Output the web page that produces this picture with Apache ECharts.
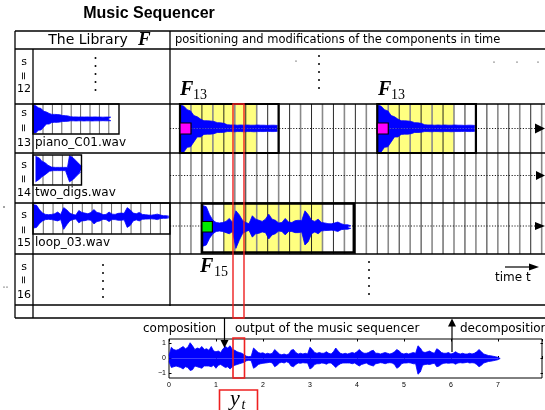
<!DOCTYPE html>
<html><head><meta charset="utf-8">
<script src="https://cdn.jsdelivr.net/npm/echarts@6/dist/echarts.min.js"></script>
<style>html,body{margin:0;padding:0;background:#fff}#c{width:545px;height:410px}</style>
</head><body><div id="c"></div>
<script>
// ---------------- data ----------------
const TIME_TICKS = [0, 1, 2, 3, 4, 5, 6, 7];
const AMP_TICKS = [-1, 0, 1];
const OUT_DT = 0.05; // seconds between envelope samples of the sequencer output
const OUT_UPPER = [
 0.2,0.75,0.6,0.55,0.6,0.7,0.8,0.65,0.75,1.05,
 0.85,0.6,0.7,0.65,0.8,0.6,0.65,0.55,0.8,0.5,
 0.45,0.5,0.4,0.65,0.8,0.7,0.85,0.6,0.55,0.45,
 0.4,0.35,0.25,0.15,0.12,0.15,0.7,0.55,0.4,0.35,
 0.38,0.3,0.35,0.3,0.35,0.6,0.45,0.3,0.25,0.3,
 0.25,0.3,0.55,0.6,0.4,0.3,0.35,0.3,0.35,0.3,
 0.75,0.6,0.4,0.35,0.4,0.35,0.35,0.45,0.35,0.3,
 0.45,0.7,0.5,0.35,0.3,0.35,0.3,0.35,0.4,0.35,
 0.45,0.6,0.45,0.35,0.35,0.4,0.5,0.55,0.35,0.35,
 0.3,0.35,0.4,0.35,0.3,0.35,0.45,0.6,0.5,0.35,
 0.3,0.35,0.3,0.35,0.4,0.35,0.85,0.7,0.45,0.4,
 0.45,0.5,0.4,0.35,0.65,0.55,0.4,0.35,0.35,0.4,
 0.3,0.35,0.45,0.35,0.3,0.35,0.3,0.3,0.35,0.3,
 0.35,0.45,0.6,0.45,0.3,0.25,0.2,0.18,0.15,0.12,
 0.08,0];
const OUT_LOWER = [
 -0.2,-0.6,-0.55,-0.5,-0.55,-0.6,-0.7,-0.55,-0.6,-0.8,
 -0.75,-0.5,-0.55,-0.6,-0.65,-0.5,-0.5,-0.5,-0.55,-0.45,
 -0.65,-0.45,-0.4,-0.5,-0.6,-0.55,-0.7,-0.55,-0.45,-0.4,
 -0.35,-0.3,-0.25,-0.15,-0.12,-0.15,-0.65,-0.55,-0.4,-0.35,
 -0.32,-0.3,-0.28,-0.25,-0.3,-0.55,-0.45,-0.3,-0.25,-0.3,
 -0.22,-0.28,-0.5,-0.55,-0.4,-0.3,-0.32,-0.28,-0.3,-0.3,
 -0.7,-0.6,-0.4,-0.35,-0.35,-0.3,-0.32,-0.38,-0.3,-0.3,
 -0.45,-0.6,-0.45,-0.35,-0.3,-0.3,-0.3,-0.3,-0.35,-0.3,
 -0.4,-0.5,-0.4,-0.35,-0.3,-0.4,-0.45,-0.5,-0.35,-0.32,
 -0.28,-0.3,-0.35,-0.3,-0.28,-0.3,-0.4,-0.65,-0.55,-0.35,
 -0.3,-0.3,-0.28,-0.3,-0.35,-0.35,-1.05,-0.9,-0.45,-0.4,
 -0.38,-0.4,-0.35,-0.32,-0.55,-0.5,-0.38,-0.32,-0.3,-0.32,
 -0.3,-0.3,-0.38,-0.3,-0.28,-0.3,-0.28,-0.25,-0.3,-0.28,
 -0.3,-0.4,-0.55,-0.45,-0.3,-0.25,-0.2,-0.18,-0.15,-0.12,
 -0.08,0];
const PIANO_UPPER = [1.0,0.95,0.8,0.75,0.55,0.5,0.4,0.33,0.33,0.32,0.3,0.25,0.24,0.22,0.16,0.15,0.15,0.14,0.15,0.14,0.15,0.14,0.14,0.15,0.14,0.14,0.13,0.14,0.14,0.13];
const PIANO_LOWER = [-1.0,-1.0,-0.8,-0.78,-0.57,-0.36,-0.36,-0.25,-0.24,-0.24,-0.22,-0.17,-0.17,-0.16,-0.13,-0.13,-0.14,-0.13,-0.13,-0.14,-0.13,-0.13,-0.14,-0.13,-0.13,-0.13,-0.12,-0.13,-0.13,-0.12];
const TWO_UPPER = [0.95,1.0,0.8,0.6,0.55,0.45,0.3,0.18,0.14,0.13,0.12,0.13,0.12,0.13,0.12,0.13,0.12,1.0,0.95,0.8,0.65,0.5,0.35,0.2];
const TWO_LOWER = [-0.95,-0.9,-0.75,-0.6,-0.5,-0.4,-0.28,-0.16,-0.13,-0.12,-0.12,-0.12,-0.12,-0.12,-0.12,-0.12,-0.12,-0.95,-0.9,-0.75,-0.6,-0.45,-0.3,-0.18];
const LOOP_UPPER = [0.95,0.9,0.55,0.3,0.2,0.18,0.2,0.25,0.38,0.2,0.72,0.55,0.3,0.2,0.15,0.5,0.35,0.3,0.25,0.35,0.57,0.35,0.3,0.18,0.2,0.38,0.22,0.2,0.28,0.3,0.28,0.72,0.55,0.3,0.25,0.35,0.2,0.18,0.15,0.14,0.18,0.22,0.15,0.1,0.1,0.05];
const LOOP_LOWER = [-0.85,-0.8,-0.5,-0.3,-0.2,-0.18,-0.2,-0.25,-0.3,-0.2,-0.95,-0.6,-0.3,-0.2,-0.15,-0.45,-0.3,-0.28,-0.22,-0.25,-0.53,-0.35,-0.3,-0.18,-0.2,-0.35,-0.2,-0.2,-0.25,-0.25,-0.22,-0.8,-0.65,-0.3,-0.22,-0.3,-0.18,-0.16,-0.15,-0.14,-0.16,-0.2,-0.12,-0.1,-0.1,-0.05];
const ROW_IDS = ['12', '13', '14', '15', '16'];
const FILE_NAMES = ['piano_C01.wav', 'two_digs.wav', 'loop_03.wav'];

// ---------------- layout ----------------
const SANS = "'DejaVu Sans', Verdana, sans-serif";
const SERIF = "'Liberation Serif', 'Times New Roman', serif";
const G = [];
function L(x1,y1,x2,y2,o={}){G.push({type:'line',silent:true,z:o.z??3,shape:{x1,y1,x2,y2},style:{stroke:o.c||'#000',lineWidth:o.w||1.2,lineDash:o.d||null}});}
function R(x,y,w,h,o={}){G.push({type:'rect',silent:true,z:o.z??3,shape:{x,y,width:w,height:h},style:{fill:o.fill||'none',stroke:o.stroke||'none',lineWidth:o.w||1}});}
function T(x,y,text,o={}){G.push({type:'text',silent:true,z:o.z??6,x,y,rotation:o.rot||0,style:{text,fill:o.c||'#000',fontSize:o.size||12,fontFamily:o.fam||SANS,fontWeight:o.bold?'bold':'normal',fontStyle:o.italic?'italic':'normal',textAlign:o.align||'left',textVerticalAlign:'middle',align:o.align||'left',verticalAlign:'middle'}});}
function P(pts,o={}){G.push({type:'polygon',silent:true,z:o.z??6,shape:{points:pts},style:{fill:o.fill||'#000'}});}
function D(x,y,r){G.push({type:'circle',silent:true,z:6,shape:{cx:x,cy:y,r:r||1},style:{fill:'#000'}});}

// title
T(149,14,'Music Sequencer',{size:16,bold:true,fam:"'Liberation Sans', Arial, sans-serif",align:'center'});
// table frame
[31,49,104,153,203,254,305,318].forEach(y=>L(15,y,545,y,{w:1.3}));
L(15,31,15,318,{w:1.3}); L(33,49,33,318,{w:1.3}); L(170,31,170,306,{w:1.3});
// header
T(88,40,'The Library',{size:14,align:'center'});
T(138,40,'F',{size:19,bold:true,italic:true,fam:SERIF});
T(175,40,'positioning and modifications of the components in time',{size:11.5});
// row labels
const ROW_Y=[[62,76,89],[113,128,143],[165,179,193],[215,230,243],[267,280,295]];
ROW_IDS.forEach((id,i)=>{const r=ROW_Y[i];T(24,r[0],'s',{size:11,align:'center'});T(24,r[1],'=',{size:11,align:'center',rot:Math.PI/2});T(24,r[2],id,{size:11,align:'center'});});
// library file names
T(35,143,FILE_NAMES[0],{size:12}); T(35,193,FILE_NAMES[1],{size:12}); T(35,243,FILE_NAMES[2],{size:12});
// library boxes + inner grid
for(let k=0;k<8;k++)L(43+9.4*k,104,43+9.4*k,134,{c:'#666',w:1,z:1});
for(let k=0;k<4;k++)L(43+9.7*k,155,43+9.7*k,185,{c:'#666',w:1,z:1});
for(let k=0;k<13;k++)L(43.3+9.75*k,203,43.3+9.75*k,234,{c:'#666',w:1,z:1});
R(33,104,86,30,{stroke:'#000',w:1.4}); R(33,155,48.5,30,{stroke:'#000',w:1.4}); R(33,203,137,31,{stroke:'#000',w:1.4});
// sequencer time grid
const X0=180, CW=10.96;
R(X0,104,7*CW,49,{fill:'#ffff80',z:0});
R(X0+18*CW,104,7*CW,49,{fill:'#ffff80',z:0});
R(X0+4*CW,203,9*CW,50,{fill:'#ffff80',z:0});
for(let k=0;k<=33;k++){const x=X0+CW*k;L(x,104,x,254,k%2?{c:'#8a8a8a',w:1.6,z:1}:{c:'#111',w:0.9,z:1});}
// dotted tracks with arrowheads
L(170,128.5,536,128.5,{c:'#222',w:1,d:[1.2,1.6],z:1}); P([[535,123.5],[545,128.5],[535,133.5]]);
L(170,175.5,537,175.5,{c:'#222',w:1,d:[1.2,1.6],z:1}); P([[536,171],[545,175.5],[536,180]]);
L(170,226,536,226,{c:'#222',w:1,d:[1.2,1.6],z:1}); P([[535,222],[545,226],[535,230]]);
// component boxes
R(X0,104,9*CW,49,{stroke:'#000',w:2.2,z:4});
R(X0+18*CW,104,9*CW,49,{stroke:'#000',w:2.2,z:4});
R(X0+2*CW,203.5,14*CW-1.5,49,{stroke:'#000',w:2.6,z:4});
R(X0,123,11,11,{fill:'#ff00ff',stroke:'#000',w:1.2,z:5});
R(X0+18*CW,123,11,11,{fill:'#ff00ff',stroke:'#000',w:1.2,z:5});
R(X0+2*CW,221.5,10.5,10.5,{fill:'#00ee00',stroke:'#000',w:1.2,z:5});
// F labels
T(180,90,'F',{size:20,bold:true,italic:true,fam:SERIF}); T(193,95,'13',{size:14,fam:SERIF});
T(378,90,'F',{size:20,bold:true,italic:true,fam:SERIF}); T(391,95,'13',{size:14,fam:SERIF});
T(200,266.5,'F',{size:20,bold:true,italic:true,fam:SERIF}); T(214,272,'15',{size:14,fam:SERIF});
// vertical ellipses
[58,66,74,82,90].forEach(y=>D(95.5,y,1));
[56,64,72,80,88].forEach(y=>D(319,y,1));
[265,273,281,289,297].forEach(y=>D(103,y,1));
[262,270,278,286,294].forEach(y=>D(369,y,1));
D(296,61,0.6);D(494,62,0.6);D(517,62,0.6);D(538,62,0.6);D(4,207,0.7);D(4,287,0.6);D(7,287,0.6);
// time arrow
L(505,267,532,267,{w:1.2}); P([[529,263.5],[539,267],[529,270.5]]);
T(495,278,'time t',{size:12});
// bottom part
T(143,329,'composition',{size:12});
T(235,329,'output of the music sequencer',{size:12});
T(460,329,'decomposition',{size:12});
L(224.5,318,224.5,342,{w:1.2}); P([[220.5,340],[228.5,340],[224.5,348]]);
L(452,352,452,325,{w:1.2}); P([[448,326.5],[456,326.5],[452,318.5]]);
// red selection
R(233,104,11,214,{stroke:'#ee2020',w:1.4,z:8});
R(233,338,11.5,40,{stroke:'#ee2020',w:1.6,z:8});
R(219.5,390,38,25,{stroke:'#ee2020',w:1.6,z:8});
T(230,399,'y',{size:22,italic:true,fam:SERIF}); T(241.5,405,'t',{size:14,italic:true,fam:SERIF});

// ---------------- chart ----------------
const BLUE='#0000ff';
function wave(gi, up, lo, xf){
  const mk=(arr)=>({type:'line',xAxisIndex:gi,yAxisIndex:gi,data:arr.map((v,i)=>[xf(i),v]),symbol:'none',silent:true,animation:false,z:2,
    lineStyle:{color:BLUE,width:0.8},areaStyle:{color:BLUE,opacity:1,origin:0}});
  return [mk(up),mk(lo)];
}
const grids=[
 {left:169,top:339,width:374,height:39,show:true,borderColor:'#000',borderWidth:1}, //0 output
 {left:33,top:105,width:78,height:28},   //1 lib piano
 {left:35.5,top:155.5,width:46,height:27}, //2 lib two
 {left:33.5,top:204,width:136,height:26}, //3 lib loop
 {left:180.5,top:105,width:97,height:47}, //4 F13 a
 {left:377.8,top:105,width:97,height:47}, //5 F13 b
 {left:203,top:204.5,width:148,height:45},//6 F15
 {left:169,top:343.5,width:374,height:30} //7 amplitude labels
];
const hidX=(gi,max)=>({gridIndex:gi,type:'value',min:0,max:max,show:false});
const hidY=(gi)=>({gridIndex:gi,type:'value',min:-1,max:1,show:false});
const xAxes=[
 {gridIndex:0,type:'value',min:TIME_TICKS[0],max:7.94,interval:1,axisLine:{show:false},splitLine:{show:false},
  axisTick:{inside:true,length:2.5,lineStyle:{color:'#000'}},
  axisLabel:{fontSize:7,color:'#000',margin:4,fontFamily:"'Liberation Sans', Arial",
    formatter:v=>TIME_TICKS.includes(v)?String(v):''}},
 hidX(1,PIANO_UPPER.length-1),hidX(2,TWO_UPPER.length-1),hidX(3,LOOP_UPPER.length-1),
 hidX(4,PIANO_UPPER.length-1),hidX(5,PIANO_UPPER.length-1),hidX(6,LOOP_UPPER.length-1),
 hidX(7,1),
 {gridIndex:0,type:'value',position:'top',min:0,max:7.94,interval:1,axisLine:{show:false},splitLine:{show:false},
  axisTick:{inside:true,length:2.5,lineStyle:{color:'#000'}},axisLabel:{show:false}}
];
const yAxes=[
 {gridIndex:0,type:'value',min:-1.3,max:1.3,show:false},
 hidY(1),hidY(2),hidY(3),hidY(4),hidY(5),hidY(6),
 {gridIndex:7,type:'value',min:AMP_TICKS[0],max:AMP_TICKS[AMP_TICKS.length-1],interval:1,axisLine:{show:false},splitLine:{show:false},
  axisTick:{inside:true,length:2.5,lineStyle:{color:'#000'}},
  axisLabel:{fontSize:7,color:'#000',margin:3,fontFamily:"'Liberation Sans', Arial",formatter:v=>v<0?'\u2212'+Math.abs(v):String(v)}},
 {gridIndex:7,type:'value',position:'right',min:-1,max:1,interval:1,axisLine:{show:false},splitLine:{show:false},
  axisTick:{inside:true,length:2.5,lineStyle:{color:'#000'}},axisLabel:{show:false}}
];
const idx=i=>i;
const series=[].concat(
 wave(0,OUT_UPPER,OUT_LOWER,i=>+(i*OUT_DT).toFixed(2)),
 wave(1,PIANO_UPPER,PIANO_LOWER,idx),
 wave(2,TWO_UPPER,TWO_LOWER,idx),
 wave(3,LOOP_UPPER,LOOP_LOWER,idx),
 wave(4,PIANO_UPPER,PIANO_LOWER,idx),
 wave(5,PIANO_UPPER,PIANO_LOWER,idx),
 wave(6,LOOP_UPPER,LOOP_LOWER,idx)
);
const chart=echarts.init(document.getElementById('c'),null,{renderer:'canvas'});
chart.setOption({animation:false,backgroundColor:'#fff',grid:grids,xAxis:xAxes,yAxis:yAxes,series:series,graphic:{elements:G}});
</script></body></html>
